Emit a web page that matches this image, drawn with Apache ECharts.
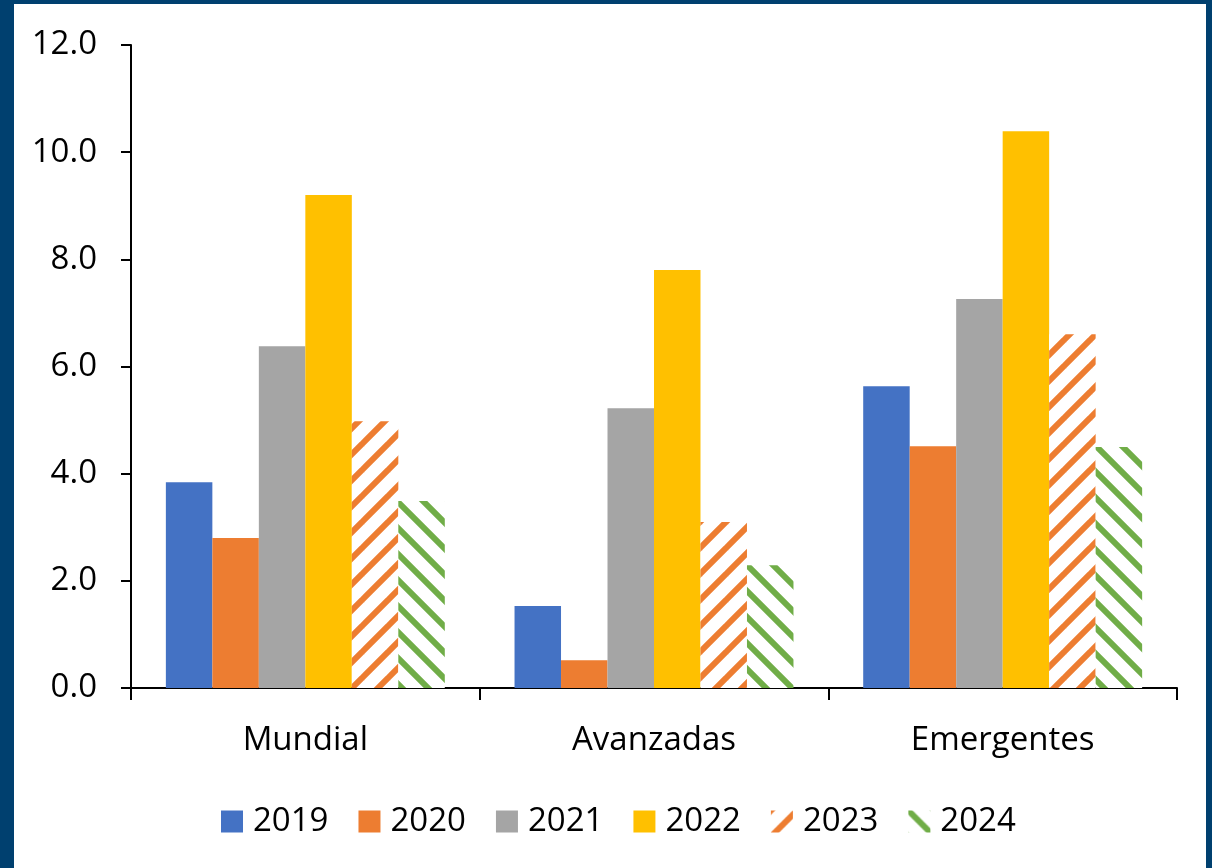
<!DOCTYPE html>
<html>
<head>
<meta charset="utf-8">
<script src="https://cdn.jsdelivr.net/npm/echarts@6/dist/echarts.min.js"></script>
<style>
html,body{margin:0;padding:0;background:#fff;}
#c{width:1212px;height:868px;}
</style>
</head>
<body>
<div id="c"></div>
<script>
var categories = ['Mundial', 'Avanzadas', 'Emergentes'];
var years = ['2019', '2020', '2021', '2022', '2023', '2024'];
var v2019 = [3.84, 1.53, 5.63];
var v2020 = [2.80, 0.52, 4.51];
var v2021 = [6.38, 5.22, 7.26];
var v2022 = [9.20, 7.80, 10.39];
var v2023 = [4.98, 3.10, 6.60];
var v2024 = [3.49, 2.29, 4.50];
var yTicks = [0, 2, 4, 6, 8, 10, 12];

function stripe(color, dir) {
  var P = 26;
  var c = document.createElement('canvas');
  c.width = P; c.height = P;
  var g = c.getContext('2d');
  g.fillStyle = '#fff';
  g.fillRect(0, 0, P, P);
  g.strokeStyle = color;
  g.lineWidth = 6;
  g.lineCap = 'square';
  for (var k = -1; k <= 1; k++) {
    g.beginPath();
    if (dir === 'up') {
      g.moveTo(k * P - 2, P + 2);
      g.lineTo(k * P + P + 2, -2);
    } else {
      g.moveTo(k * P - 2, -2);
      g.lineTo(k * P + P + 2, P + 2);
    }
    g.stroke();
  }
  return { image: c, repeat: 'repeat' };
}

var colors = ['#4472C4', '#ED7D31', '#A5A5A5', '#FFC000', stripe('#ED7D31', 'up'), stripe('#70AD47', 'down')];
var values = [v2019, v2020, v2021, v2022, v2023, v2024];
var font = '"Open Sans", "Noto Sans", sans-serif';

var series = years.map(function (y, i) {
  return {
    name: y,
    type: 'bar',
    data: values[i],
    barGap: '0%',
    barCategoryGap: '20%',
    itemStyle: { color: colors[i] },
    silent: true
  };
});

var chart = echarts.init(document.getElementById('c'));
chart.setOption({
  backgroundColor: '#fff',
  animation: false,
  grid: { left: 131, right: 35, top: 45, bottom: 180, containLabel: false },
  legend: {
    data: years,
    left: 216,
    top: 800,
    itemWidth: 22,
    itemHeight: 22,
    itemGap: 30,
    icon: 'rect',
    textStyle: { fontFamily: font, fontSize: 33, color: '#000', padding: [0, 0, 0, 5] }
  },
  xAxis: {
    type: 'category',
    data: categories,
    axisLine: { lineStyle: { color: '#000', width: 2 } },
    axisTick: { show: true, length: 12, lineStyle: { color: '#000', width: 2 } },
    axisLabel: { fontFamily: font, fontSize: 33, color: '#000', margin: 36 }
  },
  yAxis: {
    type: 'value',
    min: yTicks[0],
    max: yTicks[yTicks.length - 1],
    interval: 2,
    splitLine: { show: false },
    axisLine: { show: true, lineStyle: { color: '#000', width: 2 } },
    axisTick: { show: true, length: 10, lineStyle: { color: '#000', width: 2 } },
    axisLabel: {
      fontFamily: font, fontSize: 33, color: '#000', margin: 34,
      formatter: function (v) { return v.toFixed(1); }
    }
  },
  series: series,
  graphic: [
    { type: 'rect', left: 0, top: 0, shape: { width: 14, height: 868 }, style: { fill: '#00406F' }, silent: true },
    { type: 'rect', left: 0, top: 0, shape: { width: 1212, height: 4 }, style: { fill: '#00406F' }, silent: true },
    { type: 'rect', right: 0, top: 0, shape: { width: 6, height: 868 }, style: { fill: '#00406F' }, silent: true }
  ]
});
</script>
</body>
</html>
